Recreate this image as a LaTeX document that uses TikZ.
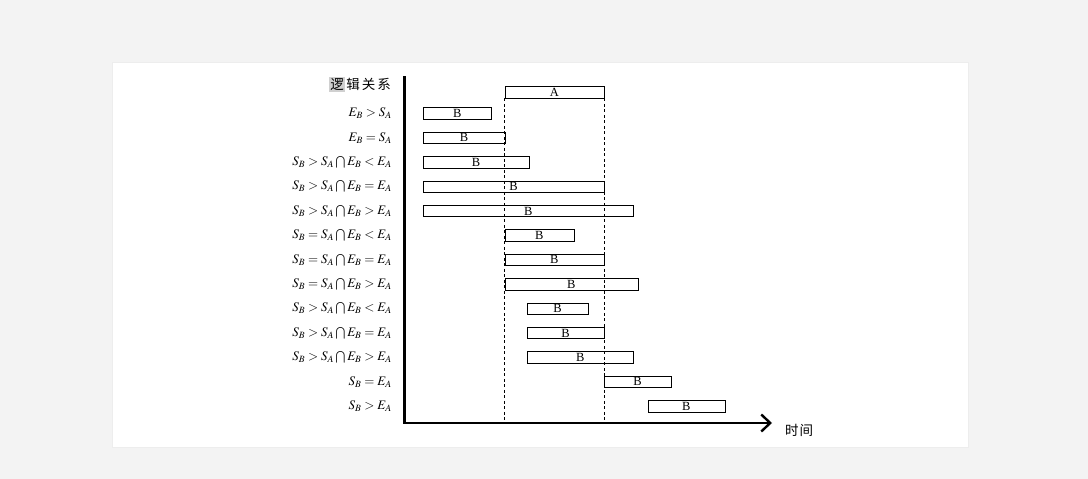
\documentclass[tikz,border=0pt]{standalone}
\usepackage{mathptmx}
\usepackage{fontspec}
\setmainfont{Liberation Serif}
\newfontfamily\cjk{Noto Sans CJK SC}
\usetikzlibrary{arrows.meta}

\definecolor{pagegray}{RGB}{243,243,243}
\definecolor{markgray}{RGB}{208,208,208}
\newcommand{\mcap}{\mathbin{\textstyle\bigcap}}

\begin{document}
\begin{tikzpicture}[x=1pt,y=-1pt,
    bar/.style={draw, line width=0.8pt, minimum height=11.5pt, inner sep=0pt,
        anchor=west, font=\fontsize{12.5}{12.5}\selectfont},
    rel/.style={anchor=east, inner sep=0pt, font=\fontsize{13}{13}\selectfont},
    axis/.style={line width=2.6pt, -{Straight Barb[length=9pt,width=17pt,line width=2.4pt]}},
    guide/.style={line width=0.8pt, dash pattern=on 3pt off 2.5pt}]
    \useasboundingbox (0,0) rectangle (1088,479);
    % Page and panel:
    \fill[pagegray] (0,0) rectangle (1088,479);
    \fill[white, draw=black!7] (112,62.5) rectangle (968,447);

    % Axes:
    \coordinate (o) at (404.5,423);
    \coordinate (ytop) at (404.5,76);
    \coordinate (xend) at (772,423);
    \draw[axis] (ytop) -- (o) -- (xend);
    \node[anchor=east, inner sep=0pt, font=\cjk\fontsize{13.5}{13.5}\selectfont] (ylab) at (391,84.5)
        {\setlength\fboxsep{1.5pt}\colorbox{markgray}{逻}\hspace{1pt}辑\hspace{2pt}关\hspace{2pt}系};
    \node[inner sep=0pt, font=\cjk\fontsize{13.5}{13.5}\selectfont] (xlab) at (799,430) {时\hspace{1pt}间};

    % Interval A and its ends:
    \node[bar, minimum width=99pt] (a) at (504.5,92.3) {A};
    \draw[guide] (a.south west) -- (a.south west |- o);
    \draw[guide] (a.south east) -- (a.south east |- o);

    % Intervals B, one per relation:
    \foreach \i/\s/\e/\lab in {
        1/423/491/{E_B>S_A},
        2/423/504.5/{E_B=S_A},
        3/423/528.5/{S_B>S_A\mcap E_B<E_A},
        4/423/603.5/{S_B>S_A\mcap E_B=E_A},
        5/423/633/{S_B>S_A\mcap E_B>E_A},
        6/504.5/573.5/{S_B=S_A\mcap E_B<E_A},
        7/504.5/603.5/{S_B=S_A\mcap E_B=E_A},
        8/504.5/637.5/{S_B=S_A\mcap E_B>E_A},
        9/527/587.5/{S_B>S_A\mcap E_B<E_A},
        10/527/603.5/{S_B>S_A\mcap E_B=E_A},
        11/527/633/{S_B>S_A\mcap E_B>E_A},
        12/603.5/671/{S_B=E_A},
        13/647.5/724.5/{S_B>E_A}}{%
        \pgfmathsetmacro{\y}{113.5+24.4*(\i-1)}
        \pgfmathsetmacro{\w}{\e-\s}
        \node[bar, minimum width=\w pt] (b\i) at (\s,\y) {B};
        \node[rel] (l\i) at (392,\y) {$\lab$};
    }
\end{tikzpicture}
\end{document}
